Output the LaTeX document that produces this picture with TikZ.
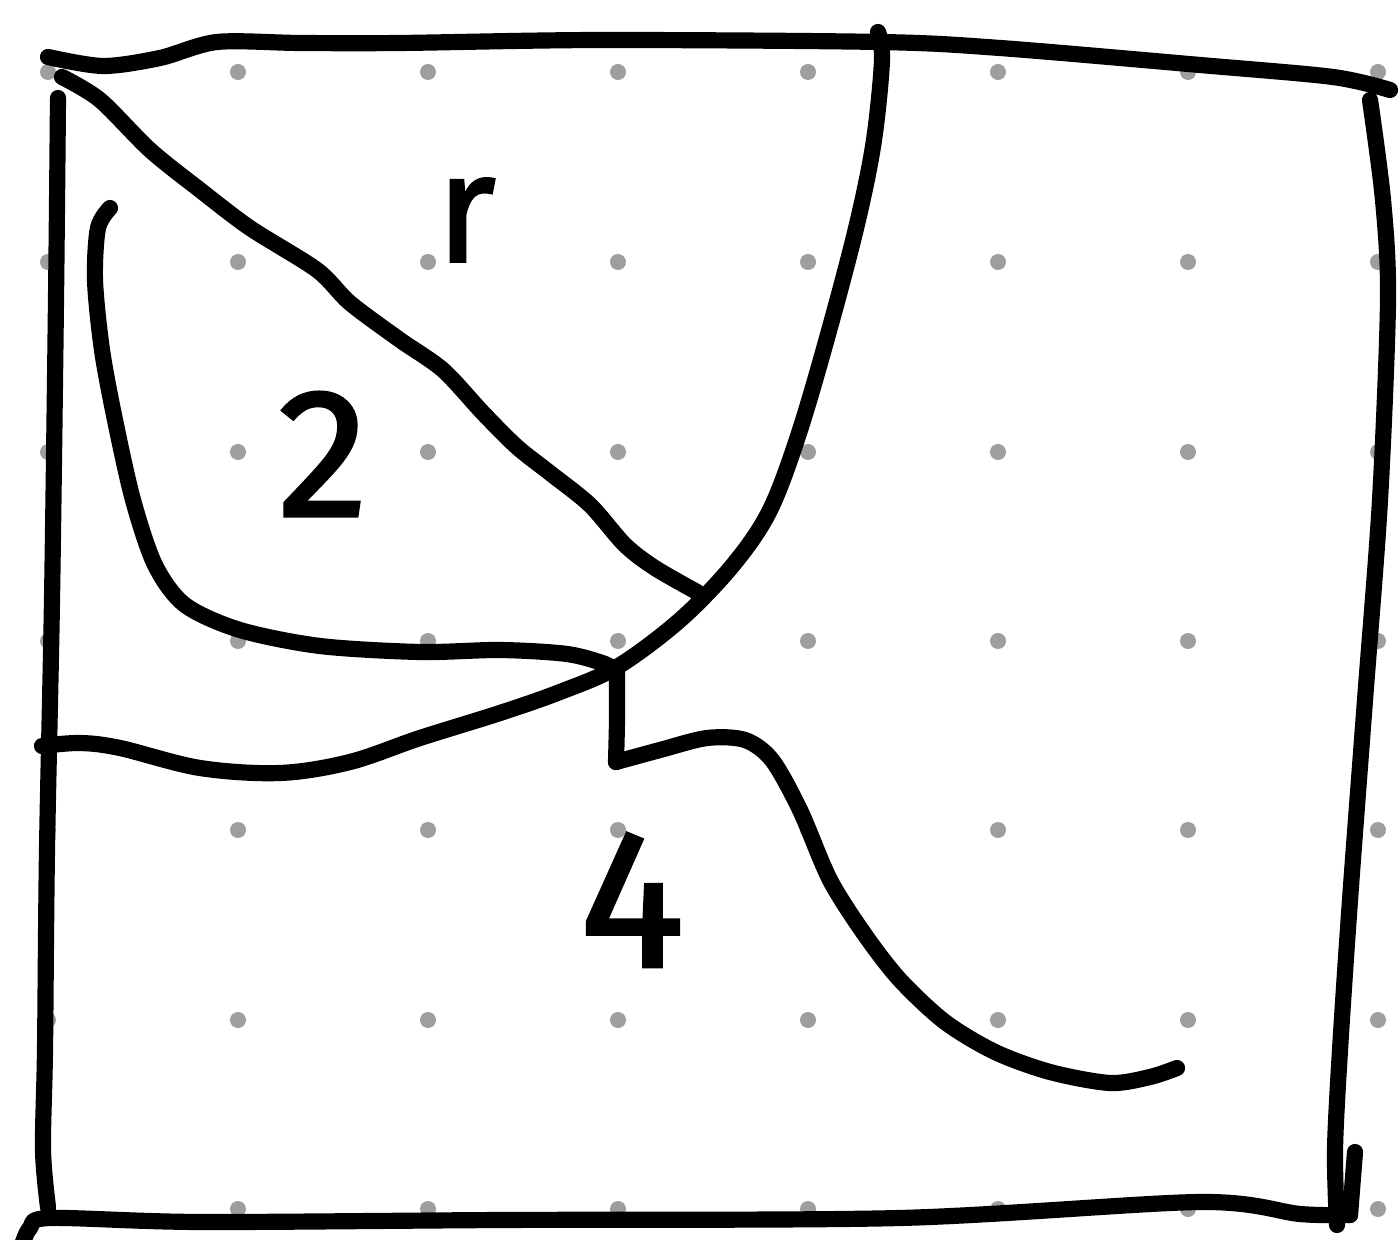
\documentclass[tikz,border=0pt]{standalone}
\usepackage{fontspec}
\setmainfont{Fira Sans}
\newfontfamily\handfont[FakeBold=1.6]{Fira Sans}
\begin{document}
\begin{tikzpicture}[x=0.01cm,y=-0.01cm,
  ink/.style={line width=4.6pt,line cap=round,line join=round,black},
  griddot/.style={fill=black!38,draw=none},
  hand/.style={inner sep=0pt}]
\useasboundingbox (0,0) rectangle (1400,1240);
\fill[white] (0,0) rectangle (1400,1240);
% dot grid
\foreach \gx in {48,238,428,618,808,998,1188,1378}
  \foreach \gy in {72,262,452,641,830,1020,1209}
    \fill[griddot] (\gx,\gy) circle (8);
% outer frame
\draw[ink] plot[smooth,tension=0.5] coordinates {(48,57) (103,66) (160,58) (217,42) (300,43) (400,43) (600,40) (880,42) (1000,48) (1200,65) (1333,77) (1390,90)};
\draw[ink] plot[smooth,tension=0.5] coordinates {(58,98) (56,300) (52,600) (47,850) (45,1050) (43,1150) (48,1207)};
\draw[ink] plot[smooth,tension=0.5] coordinates {(22,1245) (30,1228) (50,1218) (200,1222) (500,1220) (900,1218) (1200,1202) (1300,1214) (1350,1215)};
\draw[ink] plot[smooth,tension=0.5] coordinates {(1370,100) (1383,200) (1388,300) (1380,500) (1365,700) (1350,900) (1340,1050) (1335,1150) (1337,1225)};
\draw[ink] (1355,1152) -- (1350,1215);
% diagonal
\draw[ink] plot[smooth,tension=0.5] coordinates {(62,77) (100,100) (150,150) (200,190) (250,228) (317,270) (350,303) (400,340) (443,370) (483,413) (517,447) (550,473) (590,505) (625,545) (655,568) (697,592)};
% big arc
\draw[ink] plot[smooth,tension=0.55] coordinates {(878,32) (882,60) (874,140) (858,220) (832,320) (800,430) (770,510) (733,565) (680,620) (617,667) (560,692) (500,713) (420,738) (350,762) (280,773) (200,768) (120,748) (80,743) (42,746)};
% loop and lower curve
\draw[ink] plot[smooth,tension=0.5] coordinates {(110,208) (98,228) (95,280) (102,350) (115,420) (133,500) (155,565) (185,605) (240,630) (320,646) (420,652) (500,650) (567,654) (605,664) (617,672)};
\draw[ink] plot[smooth,tension=0.4] coordinates {(617,672) (617,720) (616,762)};
\draw[ink] plot[smooth,tension=0.5] coordinates {(616,762) (660,750) (707,738) (745,740) (772,760) (800,810) (830,880) (865,935) (900,980) (945,1022) (995,1052) (1050,1072) (1110,1083) (1150,1077) (1177,1068)};
% labels
\node[hand,font=\handfont\fontsize{44}{44}\selectfont] (lr) at (466,220) {r};
\node[hand,font=\handfont\fontsize{52}{52}\selectfont] (l2) at (323,454) {2};
\node[hand,font=\handfont\fontsize{56}{56}\selectfont] (l4) at (632,900) {4};
\end{tikzpicture}
\end{document}
